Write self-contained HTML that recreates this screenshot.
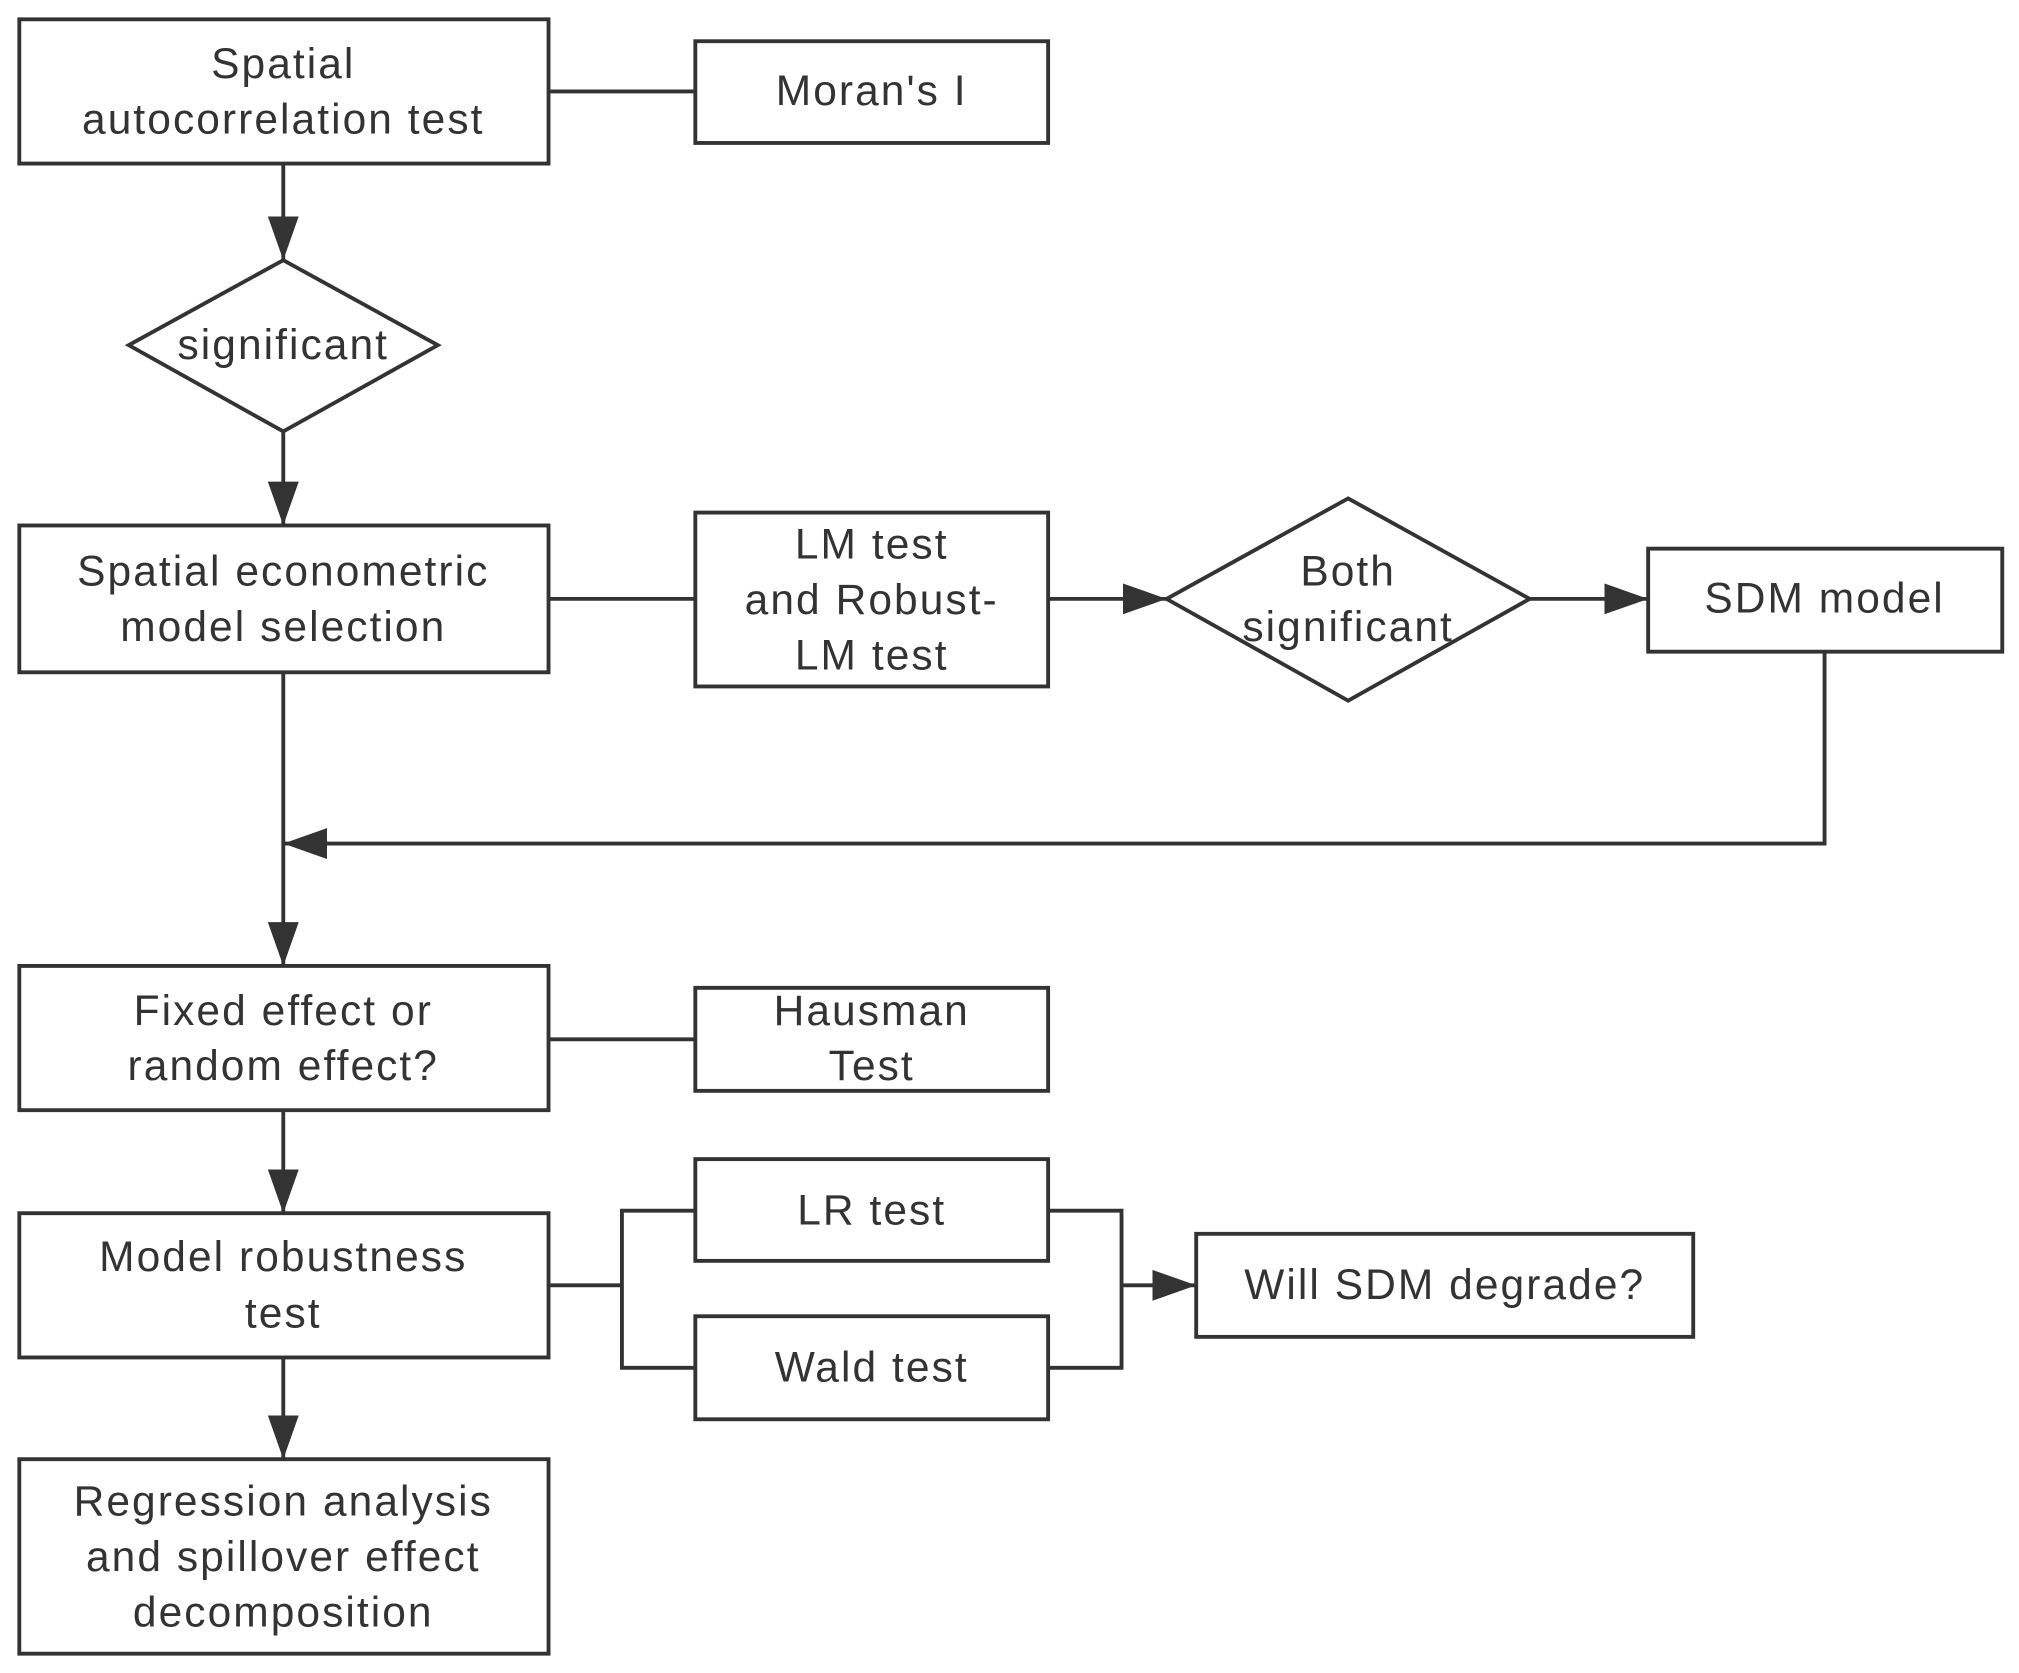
<!DOCTYPE html>
<html><head><meta charset="utf-8"><style>
html,body{margin:0;padding:0;background:#fff;}
svg{display:block;}
text{font-family:"Liberation Sans",sans-serif;font-size:33px;letter-spacing:1.6px;fill:#333;text-anchor:middle;dominant-baseline:middle;}
</style></head><body>
<svg width="2019" height="1673" viewBox="0 0 1568 1299" preserveAspectRatio="none" xmlns="http://www.w3.org/2000/svg">
<defs>
<marker id="b" viewBox="0 0 10 10" refX="10" refY="5" markerWidth="34" markerHeight="24" orient="auto" markerUnits="userSpaceOnUse" preserveAspectRatio="none"><path d="M0,0 L10,5 L0,10 z" fill="#333"/></marker></defs>
<g fill="none" stroke="#333" stroke-width="3">
<rect x="15" y="15" width="411" height="112"/>
<rect x="540" y="32" width="274" height="79"/>
<polygon points="220,202 340,268 220,335 100,268"/>
<rect x="15" y="408" width="411" height="114"/>
<rect x="540" y="398" width="274" height="135"/>
<polygon points="1047,387 1188,465 1047,544 906,465"/>
<rect x="1280" y="426" width="275" height="80"/>
<rect x="15" y="750" width="411" height="112"/>
<rect x="540" y="767" width="274" height="80"/>
<rect x="15" y="942" width="411" height="112"/>
<rect x="540" y="900" width="274" height="79"/>
<rect x="540" y="1022" width="274" height="80"/>
<rect x="929" y="958" width="386" height="80"/>
<rect x="15" y="1133" width="411" height="151"/>
<line x1="426" y1="71" x2="540" y2="71"/>
<line x1="220" y1="127" x2="220" y2="202" marker-end="url(#b)"/>
<line x1="220" y1="335" x2="220" y2="408" marker-end="url(#b)"/>
<line x1="426" y1="465" x2="540" y2="465"/>
<line x1="814" y1="465" x2="906" y2="465" marker-end="url(#b)"/>
<line x1="1188" y1="465" x2="1280" y2="465" marker-end="url(#b)"/>
<polyline points="1417,506 1417,655 220,655" marker-end="url(#b)"/>
<line x1="220" y1="522" x2="220" y2="750" marker-end="url(#b)"/>
<line x1="426" y1="807" x2="540" y2="807"/>
<line x1="220" y1="862" x2="220" y2="942" marker-end="url(#b)"/>
<line x1="426" y1="998" x2="483" y2="998"/>
<polyline points="540,940 483,940 483,1062 540,1062"/>
<polyline points="814,940 871,940 871,1062 814,1062"/>
<line x1="871" y1="998" x2="929" y2="998" marker-end="url(#b)"/>
<line x1="220" y1="1054" x2="220" y2="1133" marker-end="url(#b)"/>
</g>
<text x="220" y="52">Spatial</text>
<text x="220" y="95">autocorrelation test</text>
<text x="677" y="73">Moran's I</text>
<text x="220" y="270">significant</text>
<text x="220" y="446">Spatial econometric</text>
<text x="220" y="489">model selection</text>
<text x="677" y="425">LM test</text>
<text x="677" y="468">and Robust-</text>
<text x="677" y="511">LM test</text>
<text x="1047" y="446">Both</text>
<text x="1047" y="489">significant</text>
<text x="1417" y="467">SDM model</text>
<text x="220" y="787">Fixed effect or</text>
<text x="220" y="830">random effect?</text>
<text x="677" y="787">Hausman</text>
<text x="677" y="830">Test</text>
<text x="220" y="978">Model robustness</text>
<text x="220" y="1022">test</text>
<text x="677" y="942">LR test</text>
<text x="677" y="1064">Wald test</text>
<text x="1122" y="1000">Will SDM degrade?</text>
<text x="220" y="1168">Regression analysis</text>
<text x="220" y="1211">and spillover effect</text>
<text x="220" y="1254">decomposition</text>
</svg>
</body></html>
